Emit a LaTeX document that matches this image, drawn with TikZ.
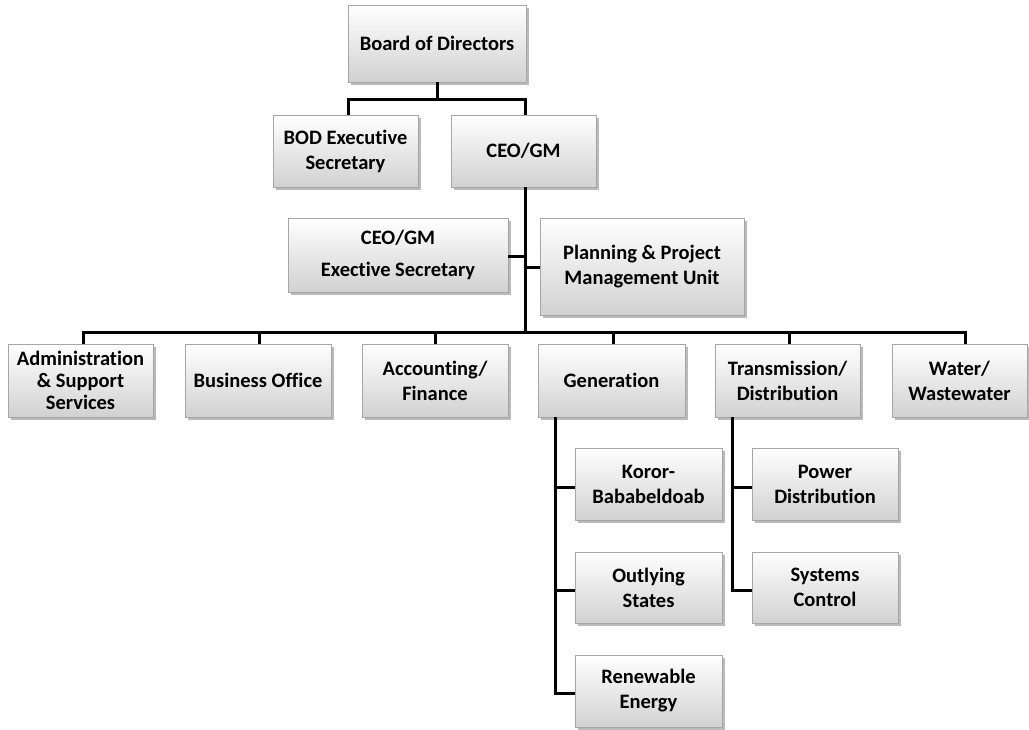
\documentclass[tikz,border=0pt]{standalone}
\usepackage{fontspec}
\setmainfont{Carlito}[Ligatures={NoCommon}]
\usetikzlibrary{shadows}
\tikzset{
  orgbox/.style={draw=black!35, line width=0.8pt, top color=white, bottom color=black!18,
    font=\bfseries\fontsize{20.5}{25}\selectfont, align=center, inner sep=0pt,
    drop shadow={shadow xshift=2.5pt, shadow yshift=-3pt, fill=black!45, opacity=0.6}},
  link/.style={line width=3pt, black}
}
\newcommand{\bx}[7]{% name, x1, y1, x2, y2, text, extra
  \node[orgbox, minimum width={#4-#2}, minimum height={#5-#3}, #7] (#1) at ({(#2+#4)/2},{(#3+#5)/2}) {#6};}
\begin{document}
\begin{tikzpicture}[x=1pt,y=-1pt]
\useasboundingbox (0,0) rectangle (1029,730);
\coordinate (h1) at (437,100);
\coordinate (h1l) at (348,100);
\coordinate (h1r) at (525,100);
\coordinate (hm) at (525,333);
\coordinate (hml) at (83,333);
\coordinate (hmr) at (965,333);
% boxes
\bx{bod}{348}{5}{526}{82}{Board of Directors}{}
\bx{bodsec}{273}{115}{418}{187}{BOD Executive\\Secretary}{}
\bx{ceo}{451}{115}{596}{187}{CEO/GM}{}
\bx{ceosec}{288}{218}{508}{292}{CEO/GM\\[7pt]Exective Secretary}{}
\bx{ppmu}{540}{218}{744}{315}{Planning \& Project\\Management Unit}{}
\bx{admin}{8}{344}{153}{417}{Administration\\[-3pt]\& Support\\[-3pt]Services}{}
\bx{bus}{185}{344}{331}{417}{Business Office}{}
\bx{acc}{362}{344}{508}{417}{Accounting/\\Finance}{}
\bx{gen}{538}{344}{685}{417}{Generation}{}
\bx{trans}{715}{344}{860}{417}{Transmission/\\Distribution}{}
\bx{water}{892}{344}{1027}{417}{Water/\\Wastewater}{}
\bx{koror}{575}{448}{722}{520}{Koror-\\Bababeldoab}{}
\bx{outl}{575}{552}{722}{623}{Outlying\\States}{}
\bx{renew}{575}{655}{722}{727}{Renewable\\Energy}{}
\bx{power}{752}{448}{898}{520}{Power\\Distribution}{}
\bx{sysc}{752}{552}{898}{623}{Systems\\Control}{}
% connectors
\draw[link] (bod.south) -- (h1);
\draw[link] (bodsec.north -| h1l) -- (h1l) -- (h1r) -- (ceo.north -| h1r);
\draw[link] (ceo.south -| hm) -- (hm);
\draw[link] (ceosec.east |- 0,257) -- (525,257);
\draw[link] (ppmu.west |- 0,268) -- (525,268);
\draw[link] (admin.north -| hml) -- (hml) -- (hmr) -- (water.north -| hmr);
\draw[link] (bus.north -| 259,0) -- (259,333);
\draw[link] (acc.north -| 435,0) -- (435,333);
\draw[link] (gen.north -| 613,0) -- (613,333);
\draw[link] (trans.north -| 789,0) -- (789,333);
\draw[link] (gen.south -| 555,0) -- (555,693) -- (renew.west |- 0,693);
\draw[link] (555,487) -- (koror.west |- 0,487);
\draw[link] (555,590) -- (outl.west |- 0,590);
\draw[link] (trans.south -| 732,0) -- (732,590) -- (sysc.west |- 0,590);
\draw[link] (732,487) -- (power.west |- 0,487);
\end{tikzpicture}
\end{document}
